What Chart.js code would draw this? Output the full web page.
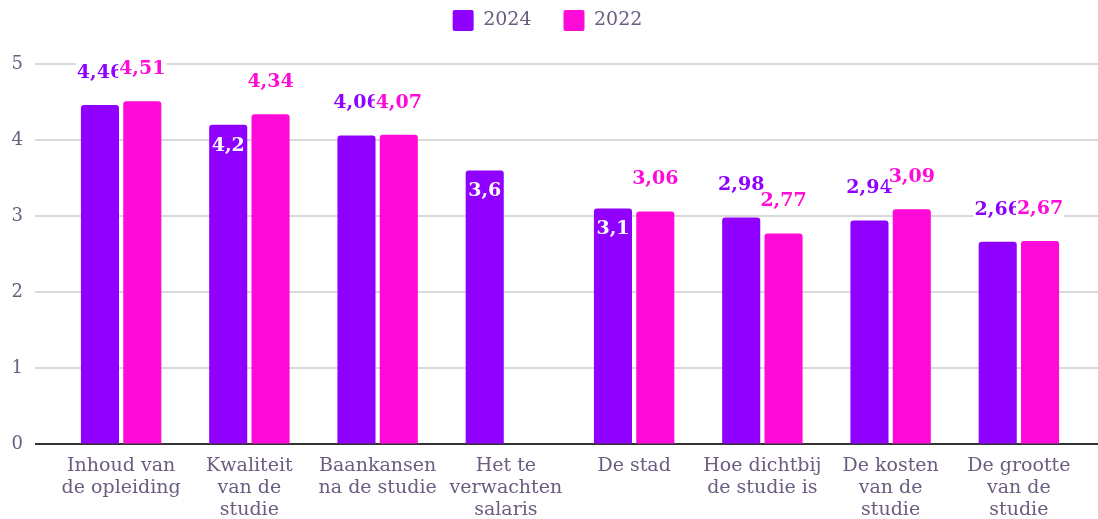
<!DOCTYPE html>
<html>
<head>
<meta charset="utf-8">
<script src="https://cdn.jsdelivr.net/npm/chart.js@4"></script>
<style>
  html, body { margin: 0; padding: 0; background: #fff; }
  #wrap { width: 1098px; height: 519px; }
</style>
</head>
<body>
<div id="wrap"><canvas id="chart"></canvas></div>
<script>
// DATA
const categories = [
  ["Inhoud van", "de opleiding"],
  ["Kwaliteit", "van de", "studie"],
  ["Baankansen", "na de studie"],
  ["Het te", "verwachten", "salaris"],
  ["De stad"],
  ["Hoe dichtbij", "de studie is"],
  ["De kosten", "van de", "studie"],
  ["De grootte", "van de", "studie"]
];
const series2024 = [4.46, 4.2, 4.06, 3.6, 3.1, 2.98, 2.94, 2.66];
const series2022 = [4.51, 4.34, 4.07, null, 3.06, 2.77, 3.09, 2.67];
const yTicks = [0, 1, 2, 3, 4, 5];

// labels that sit inside the bar top (dataset index -> bar indexes)
const insideLabels = { 0: [1, 3, 4] };

const PURPLE = "#8f00ff";
const MAGENTA = "#ff0ad8";
const TEXT = "#6b5c80";
const FONT = '"DejaVu Serif", Georgia, serif';

const fmt = v => String(v).replace(".", ",");

// extra room under the legend
const legendMargin = {
  id: "legendMargin",
  beforeInit(chart) {
    const fit = chart.legend.fit;
    chart.legend.fit = function () {
      fit.bind(chart.legend)();
      this.height += 23;
    };
  }
};

// horizontal grid lines, from a bit left of the plot to the right edge
const gridLines = {
  id: "gridLines",
  beforeDatasetsDraw(chart) {
    const { ctx, chartArea, scales } = chart;
    ctx.save();
    yTicks.forEach(t => {
      const y = Math.round(scales.y.getPixelForValue(t));
      ctx.strokeStyle = t === 0 ? "#333" : "#cccccc";
      ctx.lineWidth = t === 0 ? 2 : 1.5;
      ctx.beginPath();
      ctx.moveTo(chartArea.left - 22, y);
      ctx.lineTo(chart.width, y);
      ctx.stroke();
    });
    ctx.restore();
  }
};

// value labels
const valueLabels = {
  id: "valueLabels",
  afterDatasetsDraw(chart) {
    const { ctx } = chart;
    ctx.save();
    ctx.font = "bold 19px " + FONT;
    ctx.textAlign = "center";
    ctx.textBaseline = "middle";
    chart.data.datasets.forEach((ds, di) => {
      const meta = chart.getDatasetMeta(di);
      meta.data.forEach((bar, i) => {
        const v = ds.data[i];
        if (v == null) return;
        const txt = fmt(v);
        const inside = (insideLabels[di] || []).includes(i);
        if (inside) {
          ctx.fillStyle = "#fff";
          ctx.fillText(txt, bar.x, bar.y + 21);
        } else {
          const w = ctx.measureText(txt).width;
          const y = bar.y - 32;
          ctx.fillStyle = "#fff";
          ctx.fillRect(bar.x - w / 2 - 1, y - 11, w + 2, 22);
          ctx.fillStyle = ds.backgroundColor;
          ctx.fillText(txt, bar.x, y);
        }
      });
    });
    ctx.restore();
  }
};

new Chart(document.getElementById("chart"), {
  type: "bar",
  data: {
    labels: categories,
    datasets: [
      { label: "2024", data: series2024, backgroundColor: PURPLE },
      { label: "2022", data: series2022, backgroundColor: MAGENTA }
    ]
  },
  options: {
    responsive: true,
    maintainAspectRatio: false,
    animation: false,
    layout: { padding: { left: 12, right: 15, top: -22, bottom: 0 } },
    datasets: {
      bar: {
        categoryPercentage: 0.66,
        barPercentage: 0.9,
        borderRadius: { topLeft: 3, topRight: 3 },
        borderSkipped: "bottom"
      }
    },
    scales: {
      x: {
        grid: { display: false },
        border: { display: false },
        afterFit(axis) { axis.height = 75; },
        ticks: {
          color: TEXT,
          font: { family: FONT, size: 19, lineHeight: 1.16 },
          maxRotation: 0,
          autoSkip: false,
          padding: 3
        }
      },
      y: {
        min: 0,
        max: 5,
        afterBuildTicks(axis) { axis.ticks = yTicks.map(v => ({ value: v })); },
        afterFit(axis) { axis.width = 45; },
        border: { display: false },
        grid: { color: "rgba(0,0,0,0)", tickLength: 22, drawTicks: true },
        ticks: {
          color: TEXT,
          font: { family: FONT, size: 18 },
          padding: 12
        }
      }
    },
    plugins: {
      legend: {
        position: "top",
        labels: {
          color: TEXT,
          font: { family: FONT, size: 19 },
          boxWidth: 21,
          boxHeight: 21,
          padding: 32,
          useBorderRadius: true,
          borderRadius: 2
        }
      },
      tooltip: { enabled: false }
    }
  },
  plugins: [legendMargin, gridLines, valueLabels]
});
</script>
</body>
</html>
